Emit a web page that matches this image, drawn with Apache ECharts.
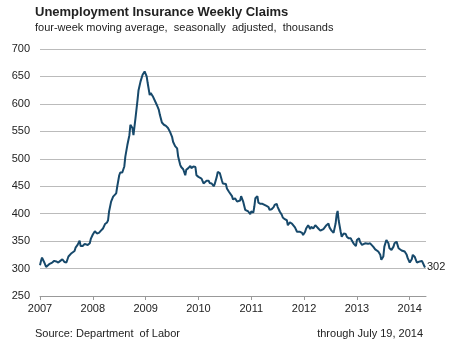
<!DOCTYPE html>
<html>
<head>
<meta charset="utf-8">
<script src="https://cdn.jsdelivr.net/npm/echarts@6/dist/echarts.min.js"></script>
<style>
  html, body { margin: 0; padding: 0; background: #fff; }
  #chart { width: 450px; height: 350px; }
</style>
</head>
<body>
<div id="chart"></div>
<script>
// weeks since the first point (first point = "2007" tick), 52 weeks per year label
var weeks = [0,1,2,4,6,9,12,14,16,18,20,22,24,26,28,31,32,34,35,37,39,40,42,44,45,47,49,50,52,54,56,58,60,62,64,66,67,68,70,72,73,75,76,78,79,81,83,84,86,88,89,91,92,93,94,96,97,99,101,103,104,105,106,108,109,111,112,114,115,117,118,120,122,124,126,128,130,131,133,135,136,138,139,141,143,144,146,148,149,151,153,154,156,157,159,161,162,164,166,167,169,171,172,174,175,177,179,180,183,184,186,189,190,192,194,195,197,198,200,202,203,205,207,208,210,211,212,214,215,217,219,221,223,225,226,228,230,231,233,234,236,238,239,241,243,244,246,248,249,251,253,254,256,258,259,261,262,264,266,267,269,271,272,274,276,277,279,280,282,284,285,287,289,290,291,292,293,294,296,297,299,301,302,304,306,307,309,311,312,314,315,317,318,320,321,323,325,326,328,330,331,333,335,336,338,339,341,343,344,346,348,349,351,353,354,356,357,359,361,362,364,366,367,369,371,372,374,376,377,379];
// four-week moving average, thousands
var claims = [306,314,320,312,303,308,311,314,313,311,314,317,312,311,322,328,329,332,338,343,351,341,341,345,347,343,346,354,362,368,364,365,369,373,381,384,388,404,422,431,431,437,449,470,475,475,486,504,525,543,562,556,543,543,574,607,625,641,653,659,659,650,638,616,620,614,614,602,598,589,580,566,562,560,556,549,540,531,523,519,504,489,485,481,470,480,483,487,483,486,485,470,467,469,464,455,458,460,460,456,455,450,454,467,476,474,461,455,454,446,440,432,426,428,422,419,424,432,422,407,404,404,399,404,402,413,428,432,420,418,418,416,414,412,407,408,412,416,418,412,404,398,393,390,388,379,384,382,384,375,367,364,367,365,361,367,373,379,372,376,373,379,381,373,369,372,372,375,379,382,375,369,365,364,382,398,405,388,367,358,364,363,358,355,355,351,345,341,352,355,349,343,345,346,347,345,346,343,340,335,334,331,325,316,322,340,352,346,337,334,340,346,349,337,334,333,334,331,325,319,311,317,325,321,311,314,313,314,313,302];
var years = ['2007','2008','2009','2010','2011','2012','2013','2014'];
var yearTicks = [0,52,104,156,208,260,312,364];

var data = weeks.map(function (w, i) { return [w, claims[i]]; });

var font = 'Liberation Sans, Arial, sans-serif';
var myChart = echarts.init(document.getElementById('chart'));
var option = {
    animation: false,
    title: [{
        text: 'Unemployment Insurance Weekly Claims',
        subtext: 'four-week moving average,  seasonally  adjusted,  thousands',
        left: 35,
        top: 6,
        padding: 0,
        itemGap: 3,
        textStyle: { fontSize: 13, fontWeight: 'bold', color: '#222', fontFamily: font },
        subtextStyle: { fontSize: 11, color: '#222', fontFamily: font }
    }, {
        text: 'Source: Department  of Labor',
        left: 35,
        top: 328,
        padding: 0,
        textStyle: { fontSize: 11, fontWeight: 'normal', color: '#222', fontFamily: font }
    }, {
        text: 'through July 19, 2014',
        right: 27,
        top: 328,
        padding: 0,
        textStyle: { fontSize: 11, fontWeight: 'normal', color: '#222', fontFamily: font }
    }],
    grid: { left: 40, right: 24, top: 49, bottom: 54, containLabel: false },
    xAxis: {
        type: 'value',
        min: 0,
        max: 380,
        splitLine: { show: false },
        axisLine: { lineStyle: { color: '#999' } },
        axisTick: { customValues: yearTicks, length: 4, lineStyle: { color: '#999' } },
        axisLabel: {
            customValues: yearTicks,
            formatter: function (v) { return years[Math.round(v / 52)]; },
            color: '#222', fontSize: 11, fontFamily: font, margin: 7
        }
    },
    yAxis: {
        type: 'value',
        min: 250,
        max: 700,
        interval: 50,
        axisLine: { show: false },
        axisTick: { show: false },
        splitLine: { lineStyle: { color: '#bbb' } },
        axisLabel: { color: '#222', fontSize: 11, fontFamily: font, margin: 10 }
    },
    series: [{
        type: 'line',
        data: data,
        showSymbol: false,
        lineStyle: { color: '#17496b', width: 2 },
        itemStyle: { color: '#17496b' },
        endLabel: {
            show: true,
            formatter: function (p) { return p.value[1]; },
            color: '#222', fontSize: 11, fontFamily: font, distance: 2
        }
    }]
};
myChart.setOption(option);
</script>
</body>
</html>
